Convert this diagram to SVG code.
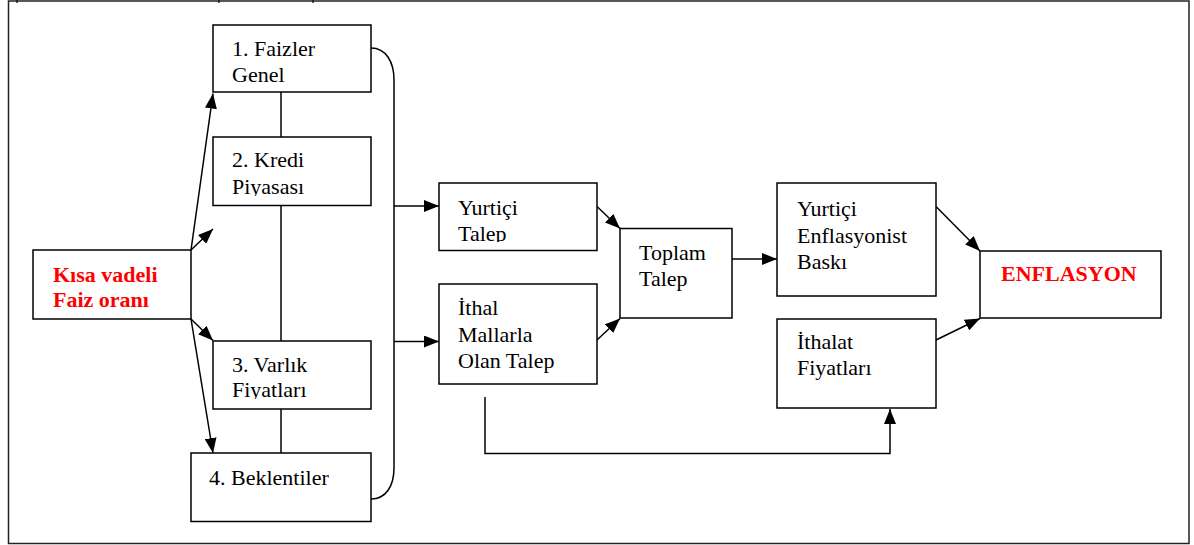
<svg xmlns="http://www.w3.org/2000/svg" width="1194" height="545" viewBox="0 0 1194 545">
<style>
.box{fill:#fff;stroke:#000;stroke-width:1.5}
.t{font-family:"Liberation Serif","Times New Roman",Times,serif;font-size:22px;fill:#000}
.r{font-family:"Liberation Serif","Times New Roman",Times,serif;font-size:22px;font-weight:bold;fill:#ff0000}
.c{fill:none;stroke:#000;stroke-width:1.5}
</style>
<defs>
<marker id="ah" markerUnits="userSpaceOnUse" markerWidth="15" markerHeight="12" refX="15" refY="6" orient="auto">
<path d="M0,0 L15,6 L0,12 z" fill="#000"/>
</marker>
<clipPath id="cp2"><rect x="213" y="137" width="158" height="59"/></clipPath>
<clipPath id="cp3"><rect x="213" y="341" width="158" height="58"/></clipPath>
<clipPath id="cpy"><rect x="439" y="183" width="158" height="59"/></clipPath>
</defs>
<rect width="1194" height="545" fill="#fff"/>
<g id="frame">
<rect x="8.5" y="1" width="1180.5" height="542.5" fill="none" stroke="#222" stroke-width="1.5"/>
<path d="M17,0V3 M219,0V3 M313,0V3" stroke="#000" stroke-width="1.2"/>
</g>
<g id="connectors">
<line class="c" x1="281" y1="92" x2="281" y2="137"/>
<line class="c" x1="281" y1="205" x2="281" y2="341"/>
<line class="c" x1="281" y1="409" x2="281" y2="453"/>
<path class="c" d="M371,48 C386,48 394,62 394,80 L394,468 C394,486 386,499 371,499"/>
<line class="c" x1="191" y1="250" x2="213" y2="93.5" marker-end="url(#ah)"/>
<line class="c" x1="191" y1="250" x2="213" y2="229" marker-end="url(#ah)"/>
<line class="c" x1="191" y1="319" x2="213" y2="340.5" marker-end="url(#ah)"/>
<line class="c" x1="191" y1="319" x2="213" y2="453" marker-end="url(#ah)"/>
<line class="c" x1="394" y1="206" x2="439" y2="206" marker-end="url(#ah)"/>
<line class="c" x1="394" y1="341.5" x2="439" y2="341.5" marker-end="url(#ah)"/>
<line class="c" x1="597" y1="206.5" x2="620" y2="228.5" marker-end="url(#ah)"/>
<line class="c" x1="597" y1="340" x2="620" y2="318.5" marker-end="url(#ah)"/>
<line class="c" x1="732" y1="259" x2="777" y2="259" marker-end="url(#ah)"/>
<line class="c" x1="936" y1="206.5" x2="980" y2="251" marker-end="url(#ah)"/>
<line class="c" x1="936" y1="340" x2="980" y2="318.5" marker-end="url(#ah)"/>
<path class="c" d="M485,397 V453.5 H890 V409" marker-end="url(#ah)"/>
</g>
<g id="kisa">
<rect class="box" x="33" y="250" width="158" height="69"/>
<text class="r" x="53" y="281.5">Kısa vadeli</text>
<text class="r" x="53" y="307">Faiz oranı</text>
</g>
<g id="faizler">
<rect class="box" x="213" y="25" width="158" height="67"/>
<text class="t" x="232" y="56">1. Faizler</text>
<text class="t" x="232" y="82">Genel</text>
</g>
<g id="kredi">
<rect class="box" x="213" y="137" width="158" height="68.5"/>
<g clip-path="url(#cp2)">
<text class="t" x="232" y="167">2. Kredi</text>
<text class="t" x="232" y="193.5">Piyasası</text>
</g>
</g>
<g id="varlik">
<rect class="box" x="213" y="341" width="158" height="68"/>
<g clip-path="url(#cp3)">
<text class="t" x="232" y="372">3. Varlık</text>
<text class="t" x="232" y="397">Fiyatları</text>
</g>
</g>
<g id="beklentiler">
<rect class="box" x="191" y="453" width="180" height="68.5"/>
<text class="t" x="209" y="485">4. Beklentiler</text>
</g>
<g id="yurtici-talep">
<rect class="box" x="439" y="183" width="158" height="67.5"/>
<g clip-path="url(#cpy)">
<text class="t" x="458" y="215">Yurtiçi</text>
<text class="t" x="458" y="241">Talep</text>
</g>
</g>
<g id="ithal-talep">
<rect class="box" x="439" y="284" width="158" height="100"/>
<text class="t" x="458" y="315">İthal</text>
<text class="t" x="458" y="342">Mallarla</text>
<text class="t" x="458" y="368">Olan Talep</text>
</g>
<g id="toplam">
<rect class="box" x="620" y="228.5" width="112" height="89.5"/>
<text class="t" x="639" y="260">Toplam</text>
<text class="t" x="639" y="286">Talep</text>
</g>
<g id="yurtici-baski">
<rect class="box" x="777" y="183" width="159" height="113"/>
<text class="t" x="797" y="216">Yurtiçi</text>
<text class="t" x="797" y="243">Enflasyonist</text>
<text class="t" x="797" y="269">Baskı</text>
</g>
<g id="ithalat">
<rect class="box" x="777" y="319" width="159" height="89"/>
<text class="t" x="797" y="349">İthalat</text>
<text class="t" x="797" y="375">Fiyatları</text>
</g>
<g id="enflasyon">
<rect class="box" x="980" y="251" width="181" height="67"/>
<text class="r" x="1001" y="281">ENFLASYON</text>
</g>
</svg>
